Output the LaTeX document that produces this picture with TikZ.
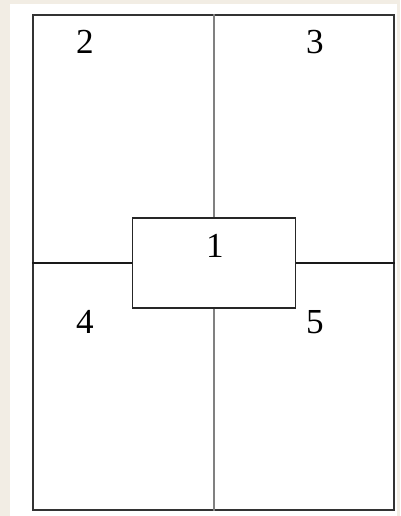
\documentclass[tikz,border=0pt]{standalone}
\usepackage{fontspec}
\setmainfont{Liberation Serif}
\usepackage{tikz}
\usetikzlibrary{positioning}
\definecolor{frameback}{RGB}{242,237,228}

\begin{document}
\begin{tikzpicture}[
  x=0.02cm, y=-0.02cm,
  region/.style={draw=black!80, line width=1.3pt, fill=white, minimum width=7.22cm,
    minimum height=9.9cm, inner sep=0pt},
  centrebox/.style={draw=black!85, line width=1.1pt, fill=white, minimum width=3.26cm,
    minimum height=1.8cm, inner sep=0pt},
  num/.style={font=\fontsize{20}{22}\selectfont, inner sep=0pt},
  vline/.style={draw=black!50, line width=1pt},
  hline/.style={draw=black!90, line width=1pt}
]
\fill[frameback] (0,0) rectangle (400,516);
\fill[white] (10,4) rectangle (397,516);
\useasboundingbox (0,0) rectangle (400,516);
\node[region] (page) at (213.5,262.5) {};
\node[centrebox] (box) at (214,263) {};
\draw[vline] (box.north |- page.north) -- (box.north);
\draw[vline] (box.south) -- (box.south |- page.south);
\draw[hline] (page.west |- box.west) -- (box.west);
\draw[hline] (box.east) -- (page.east |- box.east);
\node[num] (n2) at (85,42) {2};
\node[num] (n3) at (315,42) {3};
\node[num] (n1) at (215,246) {1};
\node[num] (n4) at (85,322) {4};
\node[num] (n5) at (315,322) {5};
\end{tikzpicture}
\end{document}
